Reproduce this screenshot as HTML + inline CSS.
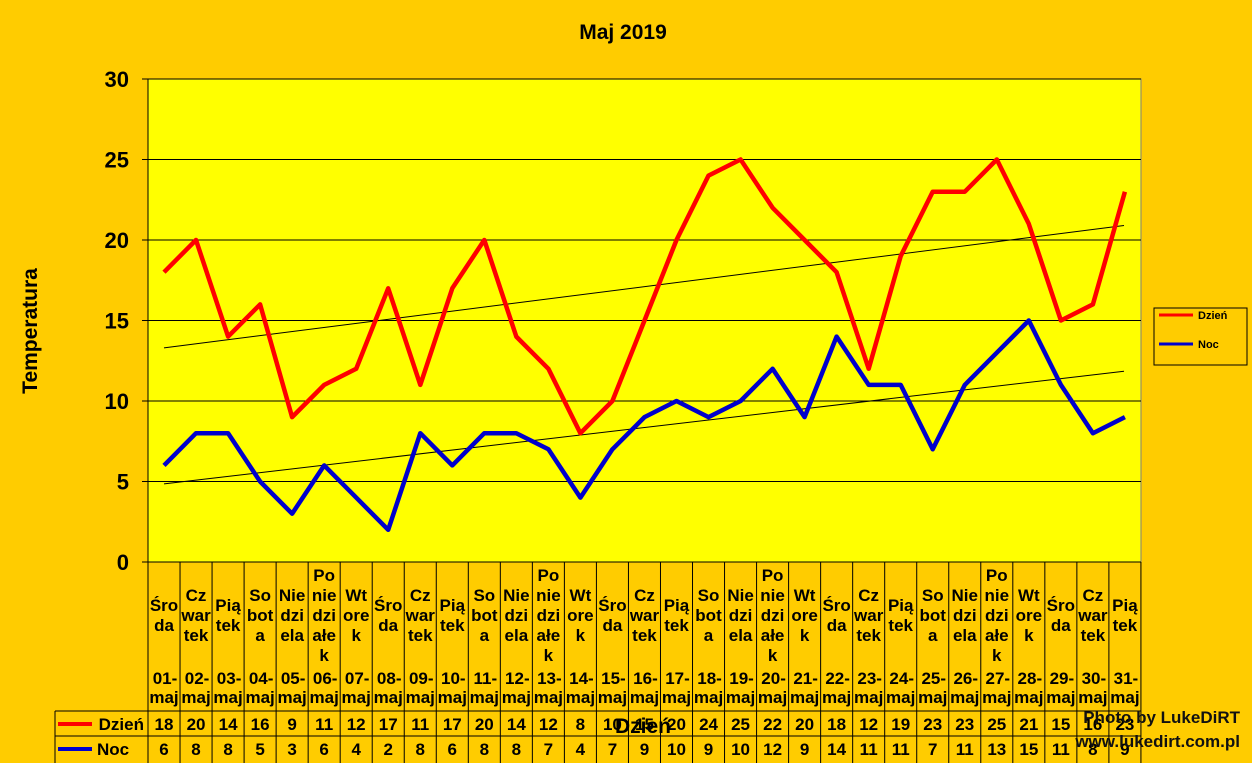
<!DOCTYPE html>
<html><head><meta charset="utf-8"><style>
html,body{margin:0;padding:0;background:#FFCC00;}
svg{display:block;font-family:"Liberation Sans",Arial,sans-serif;font-weight:bold;}
</style></head><body>
<svg id="s" width="1252" height="763" xmlns="http://www.w3.org/2000/svg">
<rect width="1252" height="763" fill="#FFCC00"/>
<rect x="148" y="79" width="993" height="483" fill="#FFFF00" stroke="#808080" stroke-width="1"/>
<text x="623" y="39" font-size="21" text-anchor="middle">Maj 2019</text>
<text transform="translate(37,331) rotate(-90)" font-size="21" text-anchor="middle">Temperatura</text>
<text x="643" y="733" font-size="21" text-anchor="middle">Dzień</text>
<g id="g"></g>
<rect x="1154" y="308" width="93" height="57" fill="none" stroke="#000" stroke-width="1"/>
<line x1="1159" y1="315" x2="1193" y2="315" stroke="#FF0000" stroke-width="3"/>
<line x1="1159" y1="344" x2="1193" y2="344" stroke="#0000CC" stroke-width="3"/>
<text x="1198" y="319" font-size="11">Dzień</text>
<text x="1198" y="348" font-size="11">Noc</text>
</svg>
<script>
var day=[18,20,14,16,9,11,12,17,11,17,20,14,12,8,10,15,20,24,25,22,20,18,12,19,23,23,25,21,15,16,23];
var night=[6,8,8,5,3,6,4,2,8,6,8,8,7,4,7,9,10,9,10,12,9,14,11,11,7,11,13,15,11,8,9];
var names={0:["Śro","da"],1:["Cz","war","tek"],2:["Pią","tek"],3:["So","bot","a"],4:["Nie","dzi","ela"],5:["Po","nie","dzi","ałe","k"],6:["Wt","ore","k"]};
var X0=148,W=32.03,Y=function(v){return 562-16.1*v;};
var h='';
for(var v=5;v<=30;v+=5)h+='<line x1="148" x2="1141" y1="'+Y(v)+'" y2="'+Y(v)+'" stroke="#000" stroke-width="1"/>';
for(var v=0;v<=30;v+=5){h+='<line x1="142" x2="148" y1="'+Y(v)+'" y2="'+Y(v)+'" stroke="#000"/>';h+='<text x="129" y="'+(Y(v)+8)+'" font-size="22" text-anchor="end">'+v+'</text>';}
h+='<line x1="148" y1="79" x2="148" y2="562" stroke="#000"/>';
h+='<line x1="148" y1="562" x2="1141" y2="562" stroke="#000"/>';
h+='<line x1="55" y1="711" x2="1141" y2="711" stroke="#000"/>';
h+='<line x1="55" y1="736" x2="1141" y2="736" stroke="#000"/>';
h+='<line x1="55" y1="711" x2="55" y2="763" stroke="#000"/>';
for(var i=0;i<=31;i++){var x=X0+W*i;h+='<line x1="'+x+'" x2="'+x+'" y1="562" y2="763" stroke="#000"/>';}
h+='<line x1="58" y1="724" x2="92" y2="724" stroke="#FF0000" stroke-width="4"/>';
h+='<line x1="58" y1="749" x2="92" y2="749" stroke="#0000CC" stroke-width="4"/>';
h+='<text x="144" y="730" font-size="17" text-anchor="end">Dzień</text>';
h+='<text x="97" y="755" font-size="17">Noc</text>';
for(var i=0;i<31;i++){
 var cx=X0+W*(i+0.5);var nm=names[(i)%7];var n=nm.length;
 for(var k=0;k<n;k++){var yy=615+(k-(n-1)/2)*20+6;h+='<text x="'+cx+'" y="'+yy+'" font-size="17" text-anchor="middle">'+nm[k]+'</text>';}
 var d=(i<9?'0':'')+(i+1)+'-';
 h+='<text x="'+(cx+1)+'" y="684" font-size="17" text-anchor="middle">'+d+'</text>';
 h+='<text x="'+cx+'" y="703" font-size="17" text-anchor="middle">maj</text>';
 h+='<text x="'+cx+'" y="730" font-size="17" text-anchor="middle">'+day[i]+'</text>';
 h+='<text x="'+cx+'" y="755" font-size="17" text-anchor="middle">'+night[i]+'</text>';
}
function pl(a,c){var p=a.map(function(v,i){return (X0+W*(i+0.5)).toFixed(1)+','+Y(v).toFixed(1)}).join(' ');return '<polyline points="'+p+'" fill="none" stroke="'+c+'" stroke-width="4.5" stroke-linejoin="round"/>';}
h+='<line x1="164" y1="'+Y(13.3)+'" x2="1124" y2="'+Y(20.9)+'" stroke="#000" stroke-width="1"/>';
h+='<line x1="164" y1="'+Y(4.85)+'" x2="1124" y2="'+Y(11.85)+'" stroke="#000" stroke-width="1"/>';
h+=pl(day,'#FF0000')+pl(night,'#0000CC');
h+='<text x="1240" y="723" font-size="17" text-anchor="end" fill="#111">Photo by LukeDiRT</text>';
h+='<text x="1240" y="747" font-size="17" text-anchor="end" fill="#111">www.lukedirt.com.pl</text>';
document.getElementById('g').innerHTML=h;
</script>
</body></html>
